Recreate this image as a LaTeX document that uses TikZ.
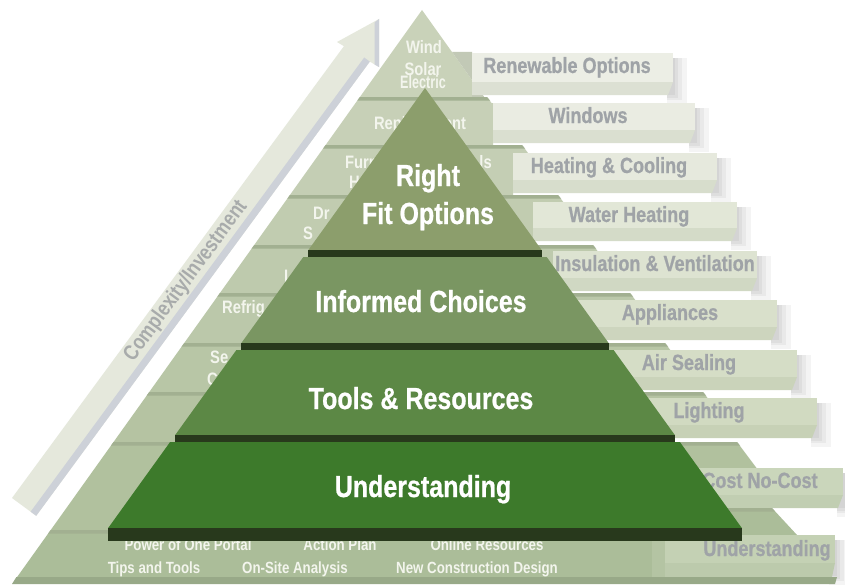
\documentclass[tikz,border=0pt]{standalone}
\usepackage{fontspec}
\setmainfont{Liberation Sans}
\newfontfamily\cond[FakeStretch=0.82]{Liberation Sans}
\newfontfamily\condheavy[FakeStretch=0.82,FakeBold=0.7]{Liberation Sans}
\newfontfamily\condn[FakeStretch=0.7]{Liberation Sans}

% palette
\definecolor{arrowface}{HTML}{E5E8DC}
\definecolor{arrowedge}{HTML}{CDD1D8}
\definecolor{arrowtext}{HTML}{A8ABAB}
\definecolor{topface}{HTML}{C9D2B9}
\definecolor{topside}{HTML}{C2C9B6}
\definecolor{ledge}{HTML}{A2B091}
\definecolor{boxtext}{HTML}{9FA3A7}
\definecolor{tiertext}{HTML}{F3F5ED}
\definecolor{facea}{HTML}{C7D0B7}
\definecolor{faceb}{HTML}{C4CEB4}
\definecolor{facec}{HTML}{C1CCB0}
\definecolor{faced}{HTML}{BECAAD}
\definecolor{facee}{HTML}{BBC8AA}
\definecolor{facef}{HTML}{B8C6A6}
\definecolor{faceg}{HTML}{B5C3A2}
\definecolor{faceh}{HTML}{B1C19E}
\definecolor{facei}{HTML}{ABBD99}
\definecolor{boxz}{HTML}{ECEEE5}
\definecolor{boxa}{HTML}{EAECE2}
\definecolor{boxb}{HTML}{E6E9DD}
\definecolor{boxc}{HTML}{E2E7D7}
\definecolor{boxd}{HTML}{DDE3D1}
\definecolor{boxe}{HTML}{D9E0CB}
\definecolor{boxf}{HTML}{D5DDC6}
\definecolor{boxg}{HTML}{D1DAC1}
\definecolor{boxh}{HTML}{CAD6BB}
\definecolor{boxi}{HTML}{C4D1B4}
\definecolor{basestrip}{HTML}{98A988}
\definecolor{rfit}{HTML}{8C9E6C}
\definecolor{informed}{HTML}{7A9662}
\definecolor{tools}{HTML}{5C8845}
\definecolor{under}{HTML}{3D7A2B}
\definecolor{darkbar}{HTML}{28391C}

\begin{document}
\begin{tikzpicture}[x=1pt,y=-1pt,
  mainlbl/.style={text=white, font=\condheavy\bfseries\fontsize{30.5}{38}\selectfont, inner sep=0pt, anchor=base},
  boxlbl/.style={text=boxtext, font=\condheavy\bfseries\fontsize{22}{24}\selectfont, inner sep=0pt, anchor=base},
  tierlbl/.style={text=tiertext, font=\cond\bfseries\fontsize{18}{20}\selectfont, inner sep=0pt, anchor=base},
  baselbl/.style={text=tiertext, font=\cond\bfseries\fontsize{16.2}{18}\selectfont, inner sep=0pt, anchor=base},
  arrowlbl/.style={text=arrowtext, font=\cond\bfseries\fontsize{21.5}{23}\selectfont, inner sep=0pt},
  softshadow/.style={black, opacity=0.045}]
\useasboundingbox (0,0) rectangle (845,586);
\fill[white] (0,0) rectangle (845,586);

% ---- rising arrow on the left
\fill[arrowface] (12,498) -- (343.9,46.2) -- (337,42) -- (379,19) -- (379,67) -- (369.8,61.6) -- (36.2,515.8) -- cycle;
\fill[arrowedge] (30.6,511.7) -- (364.2,57.5) -- (369.8,61.6) -- (36.2,515.8) -- cycle;
\fill[arrowedge] (374.5,22.5) -- (379,19) -- (379,67) -- (374.5,64.5) -- cycle;
\node[arrowlbl, rotate=53.7] (axislbl) at (186,281) {Complexity/Investment};

% ---- soft shadows behind the label slabs
\foreach \bxb/\bya/\byb in {673/53/82, 695/103/130, 717/153/180, 737/202/228, 757/251/278,
    777/300/327, 797/350/377, 817/398/425, 843/468/495, 835/535/563}{
  \foreach \k in {2,5,9,14}{
    \fill[softshadow] (\bxb-6,\bya+5) rectangle (\bxb+\k,\byb+12+0.7*\k);
  }
}

% ---- top tier
\fill[topface] (422,10) -- (359.9,97) -- (484.1,97) -- cycle;
\fill[topside] (452,52) -- (472,52) -- (472,97) -- (484.1,97) -- cycle;
\fill[boxz] (472,53) rectangle (673,82);
\fill[boxz!78!ledge] (472,82) -- (673,82) -- (668,95) -- (472,95) -- cycle;
\node[boxlbl] (lblrenew) at (567,73) {Renewable Options};

% ---- stepped tiers with their label slabs
\foreach \yt/\yb/\bxa/\bya/\byb/\bxb/\ee/\fc/\bc/\tx/\txt [count=\i] in {
   97/145/493/103/130/695/487/facea/boxa/588/Windows,
  145/195/513/153/180/717/522/faceb/boxb/609/Heating \& Cooling,
  195/245/533/202/228/737/558/facec/boxc/629/Water Heating,
  245/293/553/251/278/757/593/faced/boxd/655/Insulation \& Ventilation,
  293/343/573/300/327/777/630/facee/boxe/670/Appliances,
  343/392/597/350/377/797/665/facef/boxf/689/Air Sealing,
  392/442/630/398/425/817/703/faceg/boxg/709/Lighting,
  442/530/680/468/495/843/737/faceh/boxh/760/Cost No-Cost}{
  \fill[\fc] ({422-0.714*(\yt-10)},\yt) -- (\ee,\yt) -- ({\ee+0.75*(\bya-\yt)},\bya)
     -- (\bxa,\bya) -- (\bxa,\yb) -- ({422-0.714*(\yb-10)},\yb) -- cycle;
  \fill[ledge] ({422-0.714*(\yt-10)},\yt) -- (\ee,\yt) -- (\ee+3,\yt+3.5)
     -- ({422-0.714*(\yt-6.5)},\yt+3.5) -- cycle;
  \fill[\bc] (\bxa,\bya) rectangle (\bxb,\byb);
  \fill[\bc!78!ledge] (\bxa,\byb) -- (\bxb,\byb) -- (\bxb-5,\byb+13) -- (\bxa,\byb+13) -- cycle;
  \node[boxlbl] (lbl\i) at (\tx,\bya+20) {\txt};
}

% ---- base tier
\fill[facei] (50.7,530) -- (700,530) -- (700,508) -- (772,508) -- (797,535) -- (665,535)
   -- (665,578) -- (16.4,578) -- cycle;
\fill[ledge] (50.7,530) -- (130,530) -- (130,533.5) -- (48.2,533.5) -- cycle;
\fill[ledge] (700,508) -- (772,508) -- (775,511.5) -- (700,511.5) -- cycle;
\fill[facei!90!white] (652,532) rectangle (665,578);
\fill[boxi] (665,535) rectangle (835,563);
\fill[boxi!78!ledge] (665,563) -- (835,563) -- (832,577) -- (665,577) -- cycle;
\fill[basestrip] (16.4,577) -- (837,577) -- (835,584) -- (12,584) -- cycle;
\node[boxlbl] (lblunder) at (767,556) {Understanding};

% ---- words printed on the stepped tiers
\node[tierlbl] (wind) at (424,53) {Wind};
\node[tierlbl] (solar) at (423,75) {Solar};
\node[tierlbl, font=\condn\bfseries\fontsize{18}{20}\selectfont] (electric) at (423,88) {Electric};
\node[tierlbl] (repl) at (420,129) {Replacement};
\node[tierlbl, anchor=base west] (furn) at (345,168) {Furn};
\node[tierlbl, anchor=base east] (furnb) at (492,168) {ls};
\node[tierlbl, anchor=base west] (furnc) at (349,188) {H};
\node[tierlbl, anchor=base west] (drain) at (313,219) {Dr};
\node[tierlbl, anchor=base west] (drainb) at (303,239) {S};
\node[tierlbl, anchor=base west] (insul) at (284,282) {I};
\node[tierlbl, anchor=base west] (refrig) at (222,313) {Refrig};
\node[tierlbl, anchor=base west] (seal) at (210,363) {Se};
\node[tierlbl, anchor=base west] (sealb) at (207,385) {C};

\node[baselbl] (portal) at (188,550) {Power of One Portal};
\node[baselbl] (plan) at (340,550) {Action Plan};
\node[baselbl] (online) at (487,550) {Online Resources};
\node[baselbl] (tips) at (154,573) {Tips and Tools};
\node[baselbl] (onsite) at (295,573) {On-Site Analysis};
\node[baselbl] (newcon) at (477,573) {New Construction Design};

% ---- front pyramid
\fill[rfit] (425,88) -- (308.4,250) -- (541.6,250) -- cycle;
\fill[darkbar] (308.4,250) rectangle (541.6,257);
\fill[informed] (303.3,257) -- (546.7,257) -- (608.6,343) -- (241.4,343) -- cycle;
\fill[darkbar] (241.4,343) rectangle (608.6,350);
\fill[tools] (236.4,350) -- (613.6,350) -- (674.8,435) -- (175.2,435) -- cycle;
\fill[darkbar] (175.2,435) rectangle (674.8,442);
\fill[under] (170.1,442) -- (679.9,442) -- (741.8,528) -- (108.2,528) -- cycle;
\fill[darkbar] (108.2,528) rectangle (741.8,541);

\node[mainlbl] (right) at (428,186) {Right};
\node[mainlbl] (fit) at (428,224) {Fit Options};
\node[mainlbl] (informedlbl) at (421,312) {Informed Choices};
\node[mainlbl] (toolslbl) at (421,409) {Tools \& Resources};
\node[mainlbl] (understandlbl) at (423,497) {Understanding};
\end{tikzpicture}
\end{document}
